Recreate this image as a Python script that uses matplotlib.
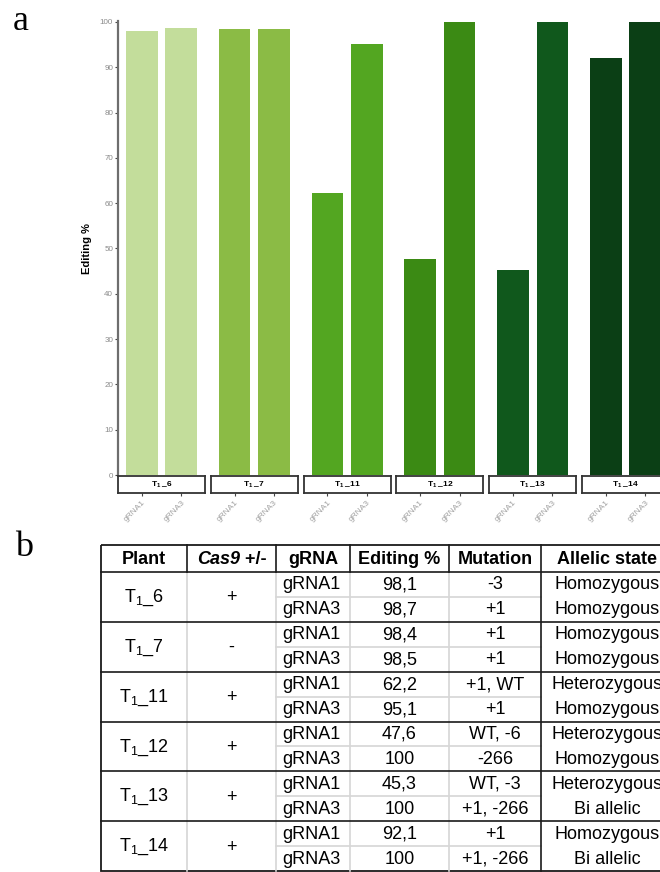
import matplotlib
matplotlib.use("Agg")
import matplotlib.pyplot as plt
from matplotlib.patches import Rectangle

plt.rcParams['font.family'] = ['Liberation Sans', 'DejaVu Sans']
plt.rcParams['mathtext.fontset'] = 'custom'
plt.rcParams['mathtext.rm'] = 'Liberation Sans'
plt.rcParams['mathtext.it'] = 'Liberation Sans:italic'
plt.rcParams['mathtext.bf'] = 'Liberation Sans:bold'

# data
plants = ['6', '7', '11', '12', '13', '14']
cas9 = ['+', '-', '+', '+', '+', '+']
grnas = ['gRNA1', 'gRNA3']
editing = [[98.1, 98.7], [98.4, 98.5], [62.2, 95.1],
           [47.6, 100], [45.3, 100], [92.1, 100]]
mutation = [['-3', '+1'], ['+1', '+1'], ['+1, WT', '+1'],
            ['WT, -6', '-266'], ['WT, -3', '+1, -266'], ['+1', '+1, -266']]
allelic = [['Homozygous', 'Homozygous'], ['Homozygous', 'Homozygous'],
           ['Heterozygous', 'Homozygous'], ['Heterozygous', 'Homozygous'],
           ['Heterozygous', 'Bi allelic'], ['Homozygous', 'Bi allelic']]
colors = ['#c3dd9b', '#8bbb45', '#53a621', '#3b8a14', '#10581c', '#0b3f15']

W, H = 660, 872
fig = plt.figure(figsize=(W / 100, H / 100), dpi=100)


def rect(x0, y0, x1, y1):
    # pixel box (top-left origin) -> figure fraction
    return [x0 / W, 1 - y1 / H, (x1 - x0) / W, (y1 - y0) / H]


# ---- panel a: faceted bar chart ----
left0, pitch, pw = 118, 92.8, 87
top, bottom, strip_b = 21, 475, 493
for i, p in enumerate(plants):
    x0 = left0 + i * pitch
    ax = fig.add_axes(rect(x0, top, x0 + pw, bottom))
    ax.bar([0, 1], editing[i], width=0.8, color=colors[i])
    ax.set_xlim(-0.6, 1.6)
    ax.set_ylim(0, 100.22)
    ax.set_xticks([])
    for s in ['top', 'right', 'bottom']:
        ax.spines[s].set_visible(False)
    if i == 0:
        ax.spines['left'].set_color('#6e6e6e')
        ax.spines['left'].set_linewidth(1.6)
        ax.set_yticks(range(0, 101, 10))
        ax.tick_params(axis='y', length=2, width=0.8, color='#444444',
                       labelsize=5.8, labelcolor='#8a8a8a', pad=1.5)
    else:
        ax.spines['left'].set_visible(False)
        ax.set_yticks([])

    st = fig.add_axes(rect(x0, bottom + 1, x0 + pw, strip_b))
    st.set_xlim(-0.6, 1.6)
    st.set_ylim(0, 1)
    st.set_yticks([])
    st.set_xticks([0, 1])
    st.set_xticklabels(grnas, rotation=45, ha='right', va='top',
                       rotation_mode='anchor', fontsize=6, color='#a0a0a0')
    st.tick_params(axis='x', length=2, width=0.8, color='#444444', pad=2)
    for s in st.spines.values():
        s.set_color('#333333')
        s.set_linewidth(1.3)
    st.text(0.5, 0.5, r'T$_\mathbf{1}$ _' + p, ha='center', va='center',
            fontsize=6, fontweight='bold', transform=st.transAxes)

fig.text(87 / W, 1 - 249 / H, 'Editing %', rotation=90, ha='center',
         va='center', fontsize=8, fontweight='bold')

fig.text(21 / W, 1 - 22 / H, 'a', fontsize=26, family='Liberation Serif',
         ha='center', va='center')
fig.text(24 / W, 1 - 548 / H, 'b', fontsize=26, family='Liberation Serif',
         ha='center', va='center')

# ---- panel b: table ----
tb = fig.add_axes([0, 0, 1, 1])
tb.set_xlim(0, W)
tb.set_ylim(H, 0)
tb.axis('off')

cols = [101, 187, 276, 350, 449, 541, 690]
head_t, head_b, tab_b = 545, 572, 871
row_h = (tab_b - head_b) / 12
dark = '#1a1a1a'
light = '#d6d6d6'
fs = 13

# light inner lines
for g in range(6):
    y = head_b + (2 * g + 1) * row_h
    tb.plot([cols[2], cols[5]], [y, y], color=light, lw=1.2)
for c in cols[1:5]:
    tb.plot([c, c], [head_b, tab_b], color=light, lw=1.2)

# dark lines
for c in cols[1:5]:
    tb.plot([c, c], [head_t, head_b], color=dark, lw=1.2)
tb.plot([cols[5], cols[5]], [head_t, tab_b], color=dark, lw=1.2)
for g in range(1, 6):
    y = head_b + 2 * g * row_h
    tb.plot([cols[0], cols[-1]], [y, y], color=dark, lw=1.2)
tb.plot([cols[0], cols[-1]], [head_b, head_b], color=dark, lw=1.2)
tb.add_patch(Rectangle((cols[0], head_t), cols[-1] - cols[0], tab_b - head_t,
                       fill=False, ec=dark, lw=1.3))

# header
hy = (head_t + head_b) / 2 + 0.5
centers = [(cols[k] + cols[k + 1]) / 2 for k in range(6)]
centers[5] = 607
tb.text(centers[0], hy, 'Plant', ha='center', va='center', fontsize=fs,
        fontweight='bold')
t1 = tb.text(0, hy, 'Cas9', ha='left', va='center', fontsize=fs,
             fontweight='bold', style='italic')
t2 = tb.text(0, hy, ' +/-', ha='left', va='center', fontsize=fs,
             fontweight='bold')
for k, lab in [(2, 'gRNA'), (3, 'Editing %'), (4, 'Mutation'), (5, 'Allelic state')]:
    tb.text(centers[k], hy, lab, ha='center', va='center', fontsize=fs,
            fontweight='bold')

fig.canvas.draw()
r = fig.canvas.get_renderer()
w1 = t1.get_window_extent(r).width
w2 = t2.get_window_extent(r).width
xs = centers[1] - (w1 + w2) / 2
t1.set_x(xs)
t2.set_x(xs + w1)

# body
for g, p in enumerate(plants):
    gy = head_b + (2 * g + 1) * row_h
    tb.text(centers[0], gy + 1, r'T$_\mathregular{1}$_' + p, ha='center',
            va='center', fontsize=fs)
    tb.text(centers[1], gy + 1, cas9[g], ha='center', va='center', fontsize=fs)
    for j in range(2):
        ry = head_b + (2 * g + j + 0.5) * row_h + 0.5
        val = ('%g' % editing[g][j]).replace('.', ',')
        tb.text(centers[2] - 2, ry, grnas[j], ha='center', va='center', fontsize=fs)
        tb.text(centers[3], ry, val, ha='center', va='center', fontsize=fs)
        tb.text(centers[4], ry, mutation[g][j], ha='center', va='center', fontsize=fs)
        tb.text(centers[5], ry, allelic[g][j], ha='center', va='center', fontsize=fs)

fig.savefig('out.png', dpi=100)
